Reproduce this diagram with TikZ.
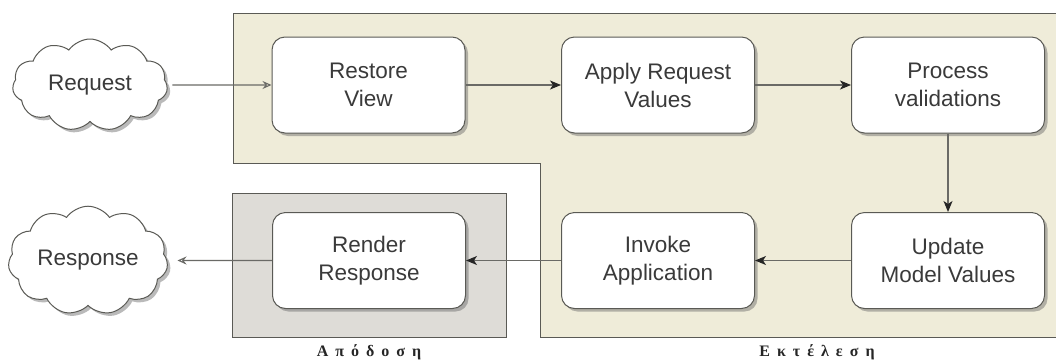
\documentclass[tikz,border=0pt]{standalone}
\usepackage{fontspec}
\setmainfont{Liberation Sans}
\newfontfamily\grk{Liberation Serif}
\usetikzlibrary{shapes.symbols,shadows,arrows.meta}
\definecolor{execfill}{HTML}{EFECD9}
\definecolor{rendfill}{HTML}{DEDCD7}
\definecolor{edgecol}{HTML}{5A5A55}
\definecolor{txtcol}{HTML}{3A3A3A}
\definecolor{linecol}{HTML}{6A6A66}
\newcommand\gsp{\hspace{7pt}}
\begin{document}
\begin{tikzpicture}[x=1pt,y=-1pt,
  phase/.style={draw=edgecol, line width=1pt, fill=white, rounded corners=13pt,
    minimum width=193pt, minimum height=96pt, align=center,
    font=\fontsize{22.5}{28}\selectfont, text=txtcol,
    drop shadow={shadow xshift=3pt, shadow yshift=-3pt, opacity=.45, fill=black!60}},
  cloudnode/.style={cloud, cloud puffs=11, cloud puff arc=110, aspect=1.7, draw=edgecol,
    line width=1pt, fill=white, minimum width=155pt, minimum height=92pt,
    font=\fontsize{22.5}{28}\selectfont, text=txtcol,
    drop shadow={shadow xshift=3pt, shadow yshift=-3pt, opacity=.45, fill=black!60}},
  region/.style={draw=edgecol, line width=1pt},
  conn/.style={draw=linecol, line width=1.1pt},
  filledtip/.style={-{Stealth[length=11pt,width=9pt,inset=3pt,color=black!85]}},
  opentip/.style={-{Stealth[open,length=9pt,width=8pt,inset=3pt]}},
  grklabel/.style={font=\grk\bfseries\fontsize{16}{18}\selectfont, text=black!85}
]
\useasboundingbox (0,0) rectangle (1056,362);
\fill[white] (0,0) rectangle (1056,362);
\begin{scope}
\clip (0,0) rectangle (1056,362);
\draw[region, fill=execfill] (233,13) -- (1075,13) -- (1075,337) -- (540,337) -- (540,163) -- (233,163) -- cycle;
\draw[region, fill=rendfill] (232,193) rectangle (506,337);
\end{scope}

\node[grklabel] (lapo) at (369,352) {Α\gsp π\gsp ό\gsp δ\gsp ο\gsp σ\gsp η};
\node[grklabel] (lekt) at (817,352) {Ε\gsp κ\gsp τ\gsp έ\gsp λ\gsp ε\gsp σ\gsp η};

\node[phase] (rv) at (368.5,85) {Restore\\View};
\node[phase] (arv) at (658,85) {Apply Request\\Values};
\node[phase] (pv) at (948,85) {Process\\validations};
\node[phase] (umv) at (948,260.5) {Update\\Model Values};
\node[phase] (ia) at (658,260.5) {Invoke\\Application};
\node[phase] (rr) at (369,260.5) {Render\\Response};

\node[cloudnode] (req) at (90,85) {Request};
\node[cloudnode] (resp) at (88,260.5) {Response};

\draw[conn, opentip, shorten <=5pt] (req) -- (rv);
\draw[conn, filledtip] (rv) -- (arv);
\draw[conn, filledtip] (arv) -- (pv);
\draw[conn, filledtip] (pv) -- (umv);
\draw[conn, filledtip] (umv) -- (ia);
\draw[conn, filledtip] (ia) -- (rr);
\draw[conn, opentip, shorten >=10pt] (rr) -- (resp);
\end{tikzpicture}
\end{document}
